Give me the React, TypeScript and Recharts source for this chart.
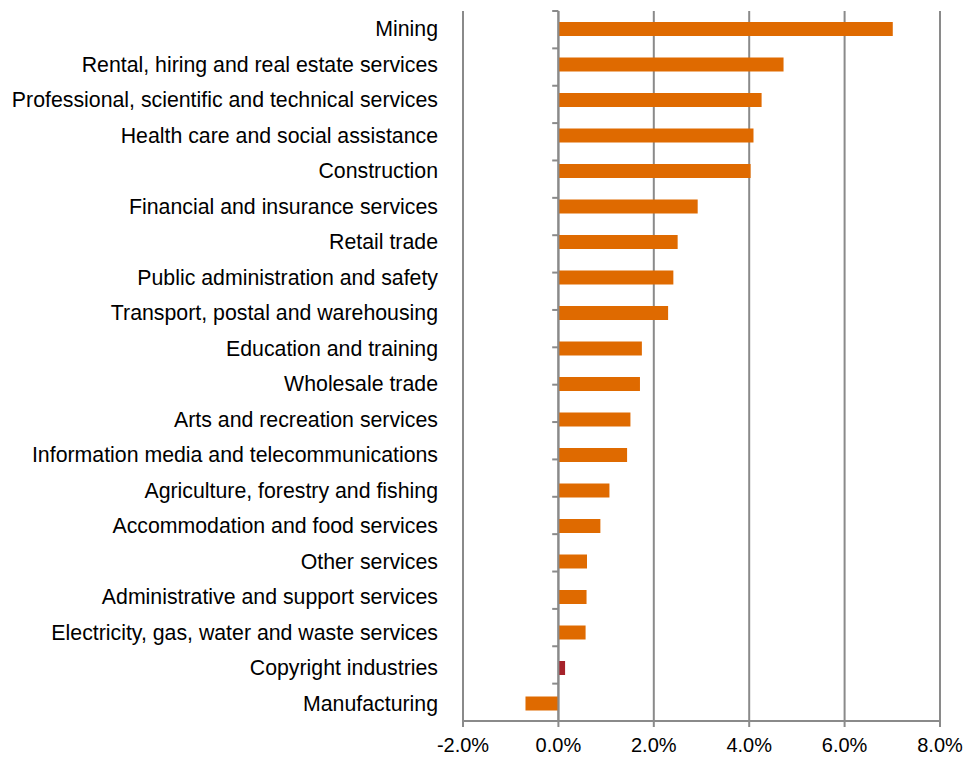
import React from 'react';
import { BarChart, Bar, XAxis, YAxis, CartesianGrid, ReferenceLine, Cell } from 'recharts';

// industries, top to bottom
const industries = [
    'Mining',
    'Rental, hiring and real estate services',
    'Professional, scientific and technical services',
    'Health care and social assistance',
    'Construction',
    'Financial and insurance services',
    'Retail trade',
    'Public administration and safety',
    'Transport, postal and warehousing',
    'Education and training',
    'Wholesale trade',
    'Arts and recreation services',
    'Information media and telecommunications',
    'Agriculture, forestry and fishing',
    'Accommodation and food services',
    'Other services',
    'Administrative and support services',
    'Electricity, gas, water and waste services',
    'Copyright industries',
    'Manufacturing',
];

// growth, per cent
const growth = [
    7.01, 4.72, 4.26, 4.09, 4.03, 2.92, 2.5, 2.41, 2.3, 1.75,
    1.71, 1.51, 1.44, 1.07, 0.88, 0.6, 0.59, 0.57, 0.14, -0.69,
];

const xTicks = [-2, 0, 2, 4, 6, 8];

const highlight = 'Copyright industries';

const data = industries.map((name, i) => ({ name, value: growth[i] }));

// boundaries between categories, for the small ticks on the zero axis
const boundaries = industries.map((_, i) => i).concat(industries.length);

const ORANGE = '#DF6A00';
const RED = '#A6222A';
const GREY = '#8A8A8A';
const FONT = '"Liberation Sans", Arial, sans-serif';

const CategoryTick = ({ x, y, payload }: any) => (
    <text x={x} y={y} dy="0.36em" textAnchor="end" fill="#000" fontSize={21.3} fontFamily={FONT}>
        {payload.value}
    </text>
);

export default function App() {
    return (
        <div style={{ position: 'absolute', left: 0, top: 0, width: 968, height: 758, background: '#fff' }}>
            <BarChart
                width={968}
                height={758}
                data={data}
                layout="vertical"
                margin={{ top: 11, right: 28, bottom: 7, left: 0 }}
            >
                <CartesianGrid horizontal={false} stroke={GREY} strokeWidth={2} yAxisId="cat" />
                <XAxis
                    type="number"
                    domain={[-2, 8]}
                    ticks={xTicks}
                    tickFormatter={(v: number) => `${v.toFixed(1)}%`}
                    axisLine={{ stroke: GREY, strokeWidth: 2 }}
                    tickLine={{ stroke: GREY, strokeWidth: 2 }}
                    tickSize={6}
                    tickMargin={11}
                    height={30}
                    tick={{ fill: '#000', fontSize: 20, fontFamily: FONT }}
                    interval={0}
                />
                <YAxis
                    yAxisId="cat"
                    type="category"
                    dataKey="name"
                    width={463}
                    axisLine={false}
                    tickLine={false}
                    tickSize={0}
                    tickMargin={25}
                    interval={0}
                    tick={<CategoryTick />}
                />
                <YAxis yAxisId="grid" type="number" domain={[0, industries.length]} reversed hide allowDataOverflow />
                <Bar yAxisId="cat" dataKey="value" barSize={14} isAnimationActive={false}>
                    {data.map((d) => (
                        <Cell key={d.name} fill={d.name === highlight ? RED : ORANGE} />
                    ))}
                </Bar>
                <ReferenceLine yAxisId="cat" x={0} stroke={GREY} strokeWidth={2} />
                {boundaries.map((b) => (
                    <ReferenceLine
                        key={b}
                        yAxisId="grid"
                        segment={[{ x: -0.13, y: b }, { x: 0, y: b }]}
                        stroke={GREY}
                        strokeWidth={2}
                        ifOverflow="visible"
                    />
                ))}
            </BarChart>
        </div>
    );
}
